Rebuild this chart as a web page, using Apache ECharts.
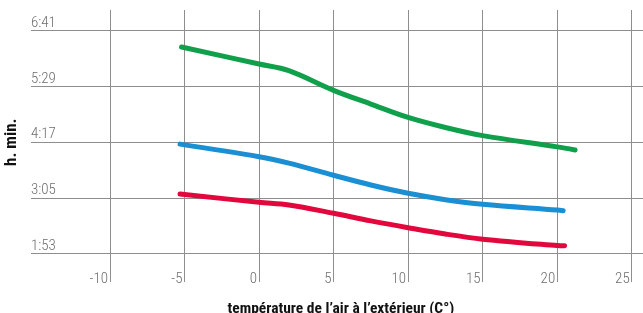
<!DOCTYPE html>
<html><head><meta charset="utf-8">
<script src="https://cdn.jsdelivr.net/npm/echarts@6/dist/echarts.min.js"></script>
<style>html,body{margin:0;padding:0;background:#fff}#c{width:643px;height:313px}</style>
</head><body><div id="c"></div>
<script>
// temperatures (°C) and durations (minutes)
const greenX = [-5.2, 0, 2, 5, 7.5, 10, 12.5, 15, 20, 21.2];
const greenY = [380, 358, 349.5, 324, 306.3, 289, 276, 265.5, 251, 247];
const blueX  = [-5.3, 0, 2, 5, 7.5, 10, 12.5, 15, 20, 20.4];
const blueY  = [254.5, 238.3, 230, 214.3, 201.7, 191, 182.8, 176.8, 169.4, 168.6];
const redX   = [-5.3, 0, 2, 5, 7.5, 10, 12.5, 15, 20, 20.5];
const redY   = [190, 179.4, 176, 165.2, 155.4, 146.6, 138.4, 131.8, 123.5, 123.2];
const yTickMinutes = [113, 185, 257, 329, 401];
const yTickLabels = ['1:53', '3:05', '4:17', '5:29', '6:41'];
const xTicks = [-10, -5, 0, 5, 10, 15, 20, 25];

const FONT = '"Roboto Condensed", Roboto, sans-serif';
const GRID = '#8e8e8e';
const LBL = '#6e6e6e';

// layout
const plotL = 110, plotR = 631.7, W = 643, H = 313;
const ppu = (plotR - plotL) / 35;
const aLeft = 31;
const axMin = -10 - (plotL - aLeft) / ppu;
const axMax = 25 + (W - plotR) / ppu;

const chart = echarts.init(document.getElementById('c'));
const pair = (xs, ys) => xs.map((x, i) => [x, ys[i]]);
const mk = (name, xs, ys, color) => ({
  name, type: 'line', xAxisIndex: 0, yAxisIndex: 0, data: pair(xs, ys),
  smooth: 0.35, symbol: 'none',
  lineStyle: { color, width: 5, cap: 'round', join: 'round' }, z: 5
});

chart.setOption({
  animation: false,
  grid: [
    { left: aLeft, right: 0, top: 30.7, bottom: H - 253.7, containLabel: false, outerBoundsMode: 'none' },
    { left: plotL, right: W - plotR, top: 10, bottom: 31, containLabel: false, outerBoundsMode: 'none' }
  ],
  xAxis: [
    { gridIndex: 0, type: 'value', min: axMin, max: axMax, show: false },
    { gridIndex: 1, type: 'value', min: -10, max: 25, interval: 5,
      name: 'température de l’air à l’extérieur (C°)', nameLocation: 'middle', nameGap: 19,
      nameTextStyle: { fontFamily: FONT, fontWeight: 'bold', fontSize: 15.5, color: '#111',
        verticalAlign: 'top', padding: [0, 60, 0, 0] },
      axisLine: { show: false }, axisTick: { show: false },
      splitLine: { show: true, lineStyle: { color: GRID, width: 1 } },
      axisLabel: { inside: false, margin: -10, align: 'right', verticalAlign: 'top', padding: [0, 2, 0, 0],
        fontFamily: FONT, fontWeight: 300, fontSize: 15, color: LBL,
        formatter: v => xTicks.includes(v) ? String(v) : '' } }
  ],
  yAxis: [
    { gridIndex: 0, type: 'value', min: yTickMinutes[0], max: yTickMinutes[4], interval: 72,
      name: 'h. min.', nameLocation: 'middle', nameGap: 7, nameRotate: 90,
      nameTextStyle: { fontFamily: FONT, fontWeight: 'bold', fontSize: 17, color: '#111' },
      axisLine: { show: false }, axisTick: { show: false },
      splitLine: { show: true, lineStyle: { color: GRID, width: 1 } },
      axisLabel: { inside: true, margin: 0, align: 'left', verticalAlign: 'bottom', padding: [0, 0, 0, 0],
        fontFamily: FONT, fontWeight: 300, fontSize: 15, color: LBL,
        formatter: v => { const i = yTickMinutes.indexOf(v); return i >= 0 ? yTickLabels[i] : ''; } } },
    { gridIndex: 1, type: 'value', min: 0, max: 1, show: false }
  ],
  series: [
    mk('vert', greenX, greenY, '#10a04b'),
    mk('bleu', blueX, blueY, '#1a8fd4'),
    mk('rouge', redX, redY, '#e2073d')
  ]
});
</script></body></html>
